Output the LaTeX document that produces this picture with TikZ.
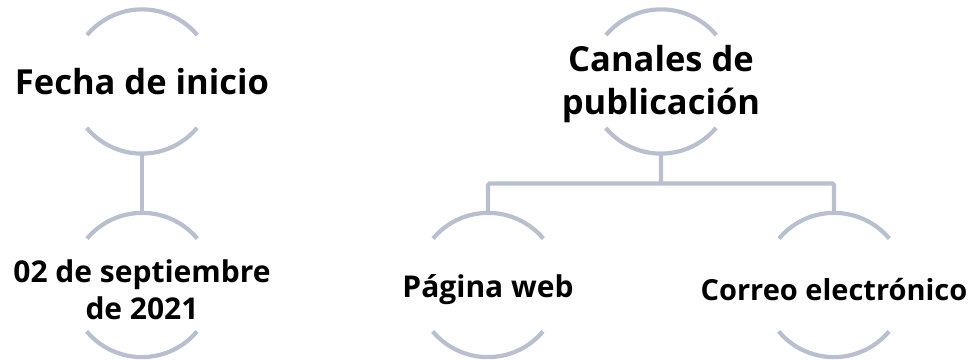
\documentclass[tikz,border=0pt]{standalone}
\usepackage{fontspec}
\setmainfont{Open Sans}
\usetikzlibrary{positioning}

\definecolor{arcgray}{RGB}{184,192,207}

\begin{document}
\begin{tikzpicture}[x=1pt,y=1pt,
  ring/.style={circle,minimum size=144pt,inner sep=0pt},
  toptext/.style={align=center,inner sep=0pt,
    font=\fontsize{34.5}{43}\selectfont\bfseries},
  subtext/.style={align=center,inner sep=0pt,yshift=-5pt,
    font=\fontsize{30}{37}\selectfont\bfseries},
  rim/.style={arcgray,line width=4.2pt},
  link/.style={arcgray,line width=4.2pt,rounded corners=1.5pt}]
  \useasboundingbox (0,0) rectangle (975,359);

  \node[ring] (fecha) at (142,277.5) {};
  \node[ring] (fechaval) at (142,74) {};
  \node[ring] (canales) at (661,277.5) {};
  \node[ring] (pagina) at (488,74) {};
  \node[ring] (correo) at (834,74) {};

  \node[toptext] (fecha-txt) at (fecha) {Fecha de inicio};
  \node[subtext] (fechaval-txt) at (fechaval) {02 de septiembre\\de 2021};
  \node[toptext,yshift=-3pt] (canales-txt) at (canales) {Canales de\\publicación};
  \node[subtext] (pagina-txt) at (pagina) {Página web};
  \node[subtext,font=\fontsize{29}{37}\selectfont\bfseries] (correo-txt) at (correo) {Correo electrónico};

  % the two arcs round each text
  \foreach \n in {fecha,fechaval,canales,pagina,correo}{
    \draw[rim] (\n.40) arc (40:140:72pt);
    \draw[rim] (\n.220) arc (220:320:72pt);
  }

  \draw[link] (fecha.south) -- (fechaval.north);

  \coordinate (bar) at (661,175.5);
  \draw[link] (canales.south) -- (bar) -| (pagina.north);
  \draw[link] (bar) -| (correo.north);
\end{tikzpicture}
\end{document}
